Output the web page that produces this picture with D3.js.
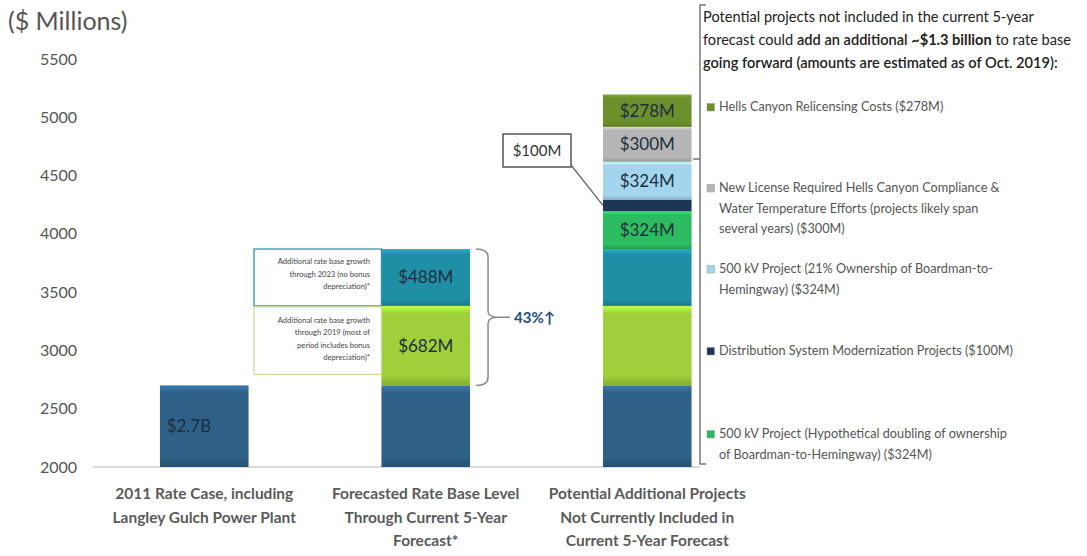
<!DOCTYPE html>
<html><head><meta charset="utf-8">
<script src="https://cdn.jsdelivr.net/npm/d3@7"></script>
<style>body{margin:0;background:#fff}svg{display:block}text{font-family:Lato,"Open Sans",sans-serif}</style>
</head><body><svg id="c" width="1087" height="556"></svg>
<script>
// ---- data ----
const categories = ["2011 Rate Case, including|Langley Gulch Power Plant",
  "Forecasted Rate Base Level|Through Current 5-Year|Forecast*",
  "Potential Additional Projects|Not Currently Included in|Current 5-Year Forecast"];
const segmentNames = ["base","growth2019","growth2023","b2hDouble","distribution","b2h21","hellsCompliance","hellsRelicensing"];
const segmentColors = ["#2f6188","#9fcf3a","#1f8fa6","#2dbb5f","#1d3557","#a3d6ee","#b5b5b5","#6d8f2c"];
const bar1Values = [2700,0,0,0,0,0,0,0];
const bar2Values = [2700,682,488,0,0,0,0,0];
const bar3Values = [2700,682,488,324,100,324,300,278];
const segmentLabels = [["$2.7B","",""],["","$682M",""],["","$488M",""],["","","$324M"],["","",""],["","","$324M"],["","","$300M"],["","","$278M"]];
const yTicks = [2000,2500,3000,3500,4000,4500,5000,5500];
const legendItems = [
  {seg:7, lines:["Hells Canyon Relicensing Costs ($278M)"]},
  {seg:6, lines:["New License Required Hells Canyon Compliance &","Water Temperature Efforts (projects likely span","several years) ($300M)"]},
  {seg:5, lines:["500 kV Project (21% Ownership of Boardman-to-","Hemingway) ($324M)"]},
  {seg:4, lines:["Distribution System Modernization Projects ($100M)"]},
  {seg:3, lines:["500 kV Project (Hypothetical doubling of ownership","of Boardman-to-Hemingway) ($324M)"]}
];
const legendY = [111,192,273,355,438];
const note2023 = ["Additional rate base growth","through 2023 (no bonus","depreciation)*"];
const note2019 = ["Additional rate base growth","through 2019 (most of","period includes bonus","depreciation)*"];

// ---- scales ----
const svg = d3.select("#c");
const x = d3.scaleBand().domain(categories).range([93.5,758]).paddingInner(0.6).paddingOuter(0.3);
const y = d3.scaleLinear().domain([2000,5500]).range([467,59]);
const allBars = [bar1Values,bar2Values,bar3Values];

// gradients
const defs = svg.append("defs");
segmentColors.forEach((c,i)=>{
  const g = defs.append("linearGradient").attr("id","g"+i).attr("x1",0).attr("x2",0).attr("y1",0).attr("y2",1);
  const base = d3.color(c);
  g.append("stop").attr("offset","0%").attr("stop-color",base.brighter(0.6));
  g.append("stop").attr("offset","10%").attr("stop-color",c);
  g.append("stop").attr("offset","88%").attr("stop-color",c);
  g.append("stop").attr("offset","100%").attr("stop-color",base.darker(0.5));
});

// axis
svg.append("text").attr("x",8).attr("y",30).attr("font-size",25).attr("fill","#555").text("($ Millions)");
const ax = svg.append("g").attr("transform","translate(77,0)")
  .call(d3.axisLeft(y).tickValues(yTicks).tickFormat(d3.format("d")).tickSize(0).tickPadding(0));
ax.select(".domain").remove();
ax.selectAll("text").attr("font-size",16).attr("fill","#555").attr("font-family","Lato, sans-serif");
svg.append("line").attr("x1",93).attr("x2",700).attr("y1",y(2000)).attr("y2",y(2000)).attr("stroke","#d0d0d0").attr("stroke-width",1.5);

// bars
allBars.forEach((vals,bi)=>{
  let cum = 2000;
  const cat = categories[bi];
  vals.forEach((v,si)=>{
    if(!v) return;
    const y0 = cum===2000 ? 2000 : cum;
    const top = cum===2000 ? v : cum+v;
    svg.append("rect").attr("x",x(cat)).attr("width",x.bandwidth())
      .attr("y",y(top)).attr("height",y(y0)-y(top))
      .attr("fill","url(#g"+si+")");
    const lab = segmentLabels[si][bi];
    if(lab){
      const tx = bi===0 ? x(cat)+29 : x(cat)+x.bandwidth()/2;
      svg.append("text").attr("x",tx).attr("y",(y(top)+y(y0))/2+6)
        .attr("text-anchor","middle").attr("font-size",17).attr("fill","#1c2f3c").text(lab);
    }
    cum = top;
  });
});

// category labels
categories.forEach(c=>{
  c.split("|").forEach((ln,i)=>{
    svg.append("text").attr("x",x(c)+x.bandwidth()/2).attr("y",499+i*23.5)
      .attr("text-anchor","middle").attr("font-size",15.5).attr("font-weight","bold").attr("fill","#5a5a5a").text(ln);
  });
});

// notes beside bar 2
const c2 = categories[1];
const t2023 = 2700+682+488, t2019 = 2700+682;
svg.append("rect").attr("x",254).attr("y",y(t2023)).attr("width",x(c2)-254).attr("height",y(t2019)-y(t2023))
  .attr("fill","#fff").attr("stroke","#2a9aa8").attr("stroke-width",1.3);
svg.append("rect").attr("x",254).attr("y",y(t2019)+1).attr("width",x(c2)-254).attr("height",y(2700)-y(t2019)-12)
  .attr("fill","#fff").attr("stroke","#cddca0").attr("stroke-width",1.3);
note2023.forEach((ln,i)=>svg.append("text").attr("x",370).attr("y",y(t2023)+15+i*12.5).attr("text-anchor","end").attr("font-size",7.6).attr("fill","#444").text(ln));
note2019.forEach((ln,i)=>svg.append("text").attr("x",370).attr("y",y(t2019)+17+i*12.5).attr("text-anchor","end").attr("font-size",7.6).attr("fill","#444").text(ln));

// brace bar2
const bx = x(c2)+x.bandwidth()+6, by0 = y(t2023), by1 = y(2700), bm = (by0+by1)/2;
svg.append("path").attr("fill","none").attr("stroke","#8a8a8a").attr("stroke-width",1.5)
  .attr("d",`M${bx},${by0} Q${bx+12},${by0} ${bx+12},${by0+8} V${bm-6} Q${bx+12},${bm} ${bx+22},${bm} H${bx+34} M${bx+22},${bm} Q${bx+12},${bm} ${bx+12},${bm+6} V${by1-8} Q${bx+12},${by1} ${bx},${by1}`);
svg.append("text").attr("x",bx+38).attr("y",bm+6).attr("font-size",15).attr("font-weight","bold").attr("fill","#1f4e79").text("43%↑");

// $100M callout
const c3 = categories[2];
const navyMid = y(2700+682+488+324+50);
svg.append("line").attr("x1",571).attr("y1",165).attr("x2",x(c3)).attr("y2",navyMid).attr("stroke","#666").attr("stroke-width",1.3);
svg.append("rect").attr("x",503).attr("y",134).attr("width",68).attr("height",33).attr("fill","#fff").attr("stroke","#555").attr("stroke-width",1.5);
svg.append("text").attr("x",537).attr("y",156).attr("text-anchor","middle").attr("font-size",15).attr("fill","#333").text("$100M");

// right bracket
svg.append("path").attr("fill","none").attr("stroke","#777").attr("stroke-width",1.5)
  .attr("d","M706,5 H700 V464 H706 M700,159 H693");

// header text
const head = svg.append("text").attr("x",703).attr("font-size",14.6).attr("fill","#222");
const hl = [
  [["Potential projects not included in the current 5-year",400]],
  [["forecast could ",400],["add an additional ",600],["~$1.3 billion",700],[" to rate base",400]],
  [["going forward (amounts are estimated as of Oct. 2019):",600]]
];
hl.forEach((line,i)=>{
  line.forEach((seg,j)=>{
    const t = head.append("tspan").attr("font-weight",seg[1]).text(seg[0]);
    if(j===0) t.attr("x",703).attr("y",22+i*23);
  });
});

// legend
legendItems.forEach((it,i)=>{
  svg.append("rect").attr("x",707).attr("y",legendY[i]-7.5).attr("width",7.5).attr("height",7.5).attr("fill",segmentColors[it.seg]).attr("stroke","#999").attr("stroke-width",0.5);
  it.lines.forEach((ln,k)=>svg.append("text").attr("x",719).attr("y",legendY[i]+k*20.5).attr("font-size",12.7).attr("fill","#555").text(ln));
});
</script></body></html>
